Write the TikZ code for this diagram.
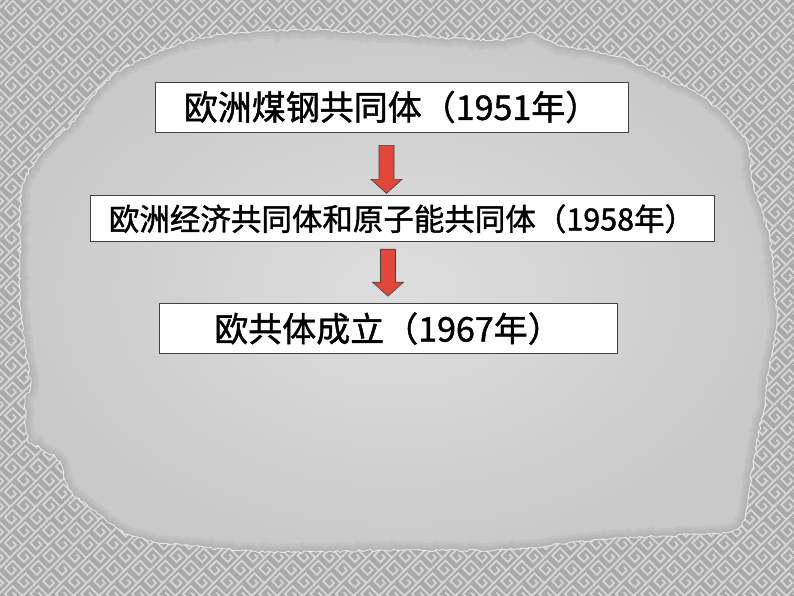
\documentclass[tikz,border=0pt]{standalone}
\usepackage{fontspec}
\newfontfamily\cjk[FakeBold=1.3]{Noto Sans CJK SC}
\usepackage{tikz}
\usetikzlibrary{positioning}
\usetikzlibrary{calc}
\usetikzlibrary{patterns.meta}
\usetikzlibrary{decorations.pathmorphing}
\definecolor{wall}{HTML}{A9A9A9}
\definecolor{fretline}{HTML}{D6D6D6}
\definecolor{arrowred}{HTML}{E2473A}
\tikzstyle{stage}=[draw=black!75,fill=white,line width=0.8pt,inner sep=0pt,font=\cjk]
\tikzstyle{redarrow}=[draw=black!75,fill=arrowred,line width=0.6pt,line join=miter]
\tikzstyle{ragged}=[decorate,decoration={random steps,segment length=3pt,amplitude=1.3pt}]

\pgfdeclarepattern{
  name=meander,
  bottom left={\pgfpoint{-1pt}{-1pt}},
  top right={\pgfpoint{19pt}{19pt}},
  tile size={\pgfpoint{18pt}{18pt}},
  tile transformation={\pgftransformrotate{45}},
  code={
    \pgfsetlinewidth{1.8pt}
    \pgfpathmoveto{\pgfpoint{-1pt}{2pt}}
    \pgfpathlineto{\pgfpoint{19pt}{2pt}}
    \pgfpathmoveto{\pgfpoint{16pt}{2pt}}
    \pgfpathlineto{\pgfpoint{16pt}{16pt}}
    \pgfpathlineto{\pgfpoint{5pt}{16pt}}
    \pgfpathlineto{\pgfpoint{5pt}{7pt}}
    \pgfpathlineto{\pgfpoint{11.5pt}{7pt}}
    \pgfpathlineto{\pgfpoint{11.5pt}{11.5pt}}
    \pgfusepath{stroke}
  }
}

% outline of the torn-out paper
\newcommand{\tornedge}{plot[smooth cycle,tension=0.6] coordinates {
  (22,190) (40,155) (70,125) (100,88) (130,65) (200,38) (300,30) (400,35)
  (500,40) (530,33) (560,45) (620,57) (670,80) (700,95) (730,120) (748,145)
  (752,180) (762,212) (770,240) (775,290) (776,330) (770,360) (765,400)
  (752,470) (745,518) (730,532) (700,534) (600,540) (500,550) (400,550)
  (280,552) (180,545) (130,535) (100,515) (70,490) (60,462) (40,448)
  (28,438) (25,400) (30,385) (24,340) (20,300) (20,240)}}

\begin{document}
\begin{tikzpicture}[x=1pt,y=-1pt]
\useasboundingbox (0,0) rectangle (794,596);

% background
\fill[wall] (0,0) rectangle (794,596);
\fill[pattern=meander,pattern color=fretline] (0,0) rectangle (794,596);

\pgfmathsetseed{11}
\shade[ragged,inner color=black!13,outer color=black!21] \tornedge;
\begin{scope}
  \pgfmathsetseed{11}
  \clip[ragged] \tornedge;
  \foreach \w in {16,10,5}
    {\pgfmathsetseed{11}
     \draw[ragged,black,line width=\w pt,opacity=0.035] \tornedge;}
\end{scope}
\pgfmathsetseed{11}
\draw[ragged,white,line width=0.9pt,opacity=0.7] \tornedge;

% the three stages
\node [stage,minimum width=473pt,minimum height=50pt,font=\cjk\fontsize{34pt}{37pt}\selectfont]
  (ecsc) at (391.5,107) {欧洲煤钢共同体（1951年）};
\node [stage,minimum width=624pt,minimum height=46pt,font=\cjk\fontsize{30.5pt}{33pt}\selectfont,
  below=63pt of ecsc,xshift=10.5pt] (eec) {欧洲经济共同体和原子能共同体（1958年）};
\node [stage,minimum width=458pt,minimum height=50pt,font=\cjk\fontsize{34pt}{37pt}\selectfont,
  below=61pt of eec,xshift=-14pt] (ec) {欧共体成立（1967年）};

\coordinate (t1) at ([xshift=-5pt,yshift=-13pt]ecsc.south);
\coordinate (b1) at ([yshift=2pt]eec.north);
\coordinate (t2) at ([xshift=-14pt,yshift=-7pt]eec.south);
\coordinate (b2) at ([yshift=7pt]ec.north);

\foreach \a/\b in {t1/b1,t2/b2}
  \draw[redarrow] let \p1=(\a), \p2=(\b) in
    (\x1-7.5pt,\y1) -- (\x1+7.5pt,\y1) -- (\x1+7.5pt,\y2+14pt) -- (\x1+15.5pt,\y2+14pt)
    -- (\x1,\y2) -- (\x1-15.5pt,\y2+14pt) -- (\x1-7.5pt,\y2+14pt) -- cycle;
\end{tikzpicture}
\end{document}
